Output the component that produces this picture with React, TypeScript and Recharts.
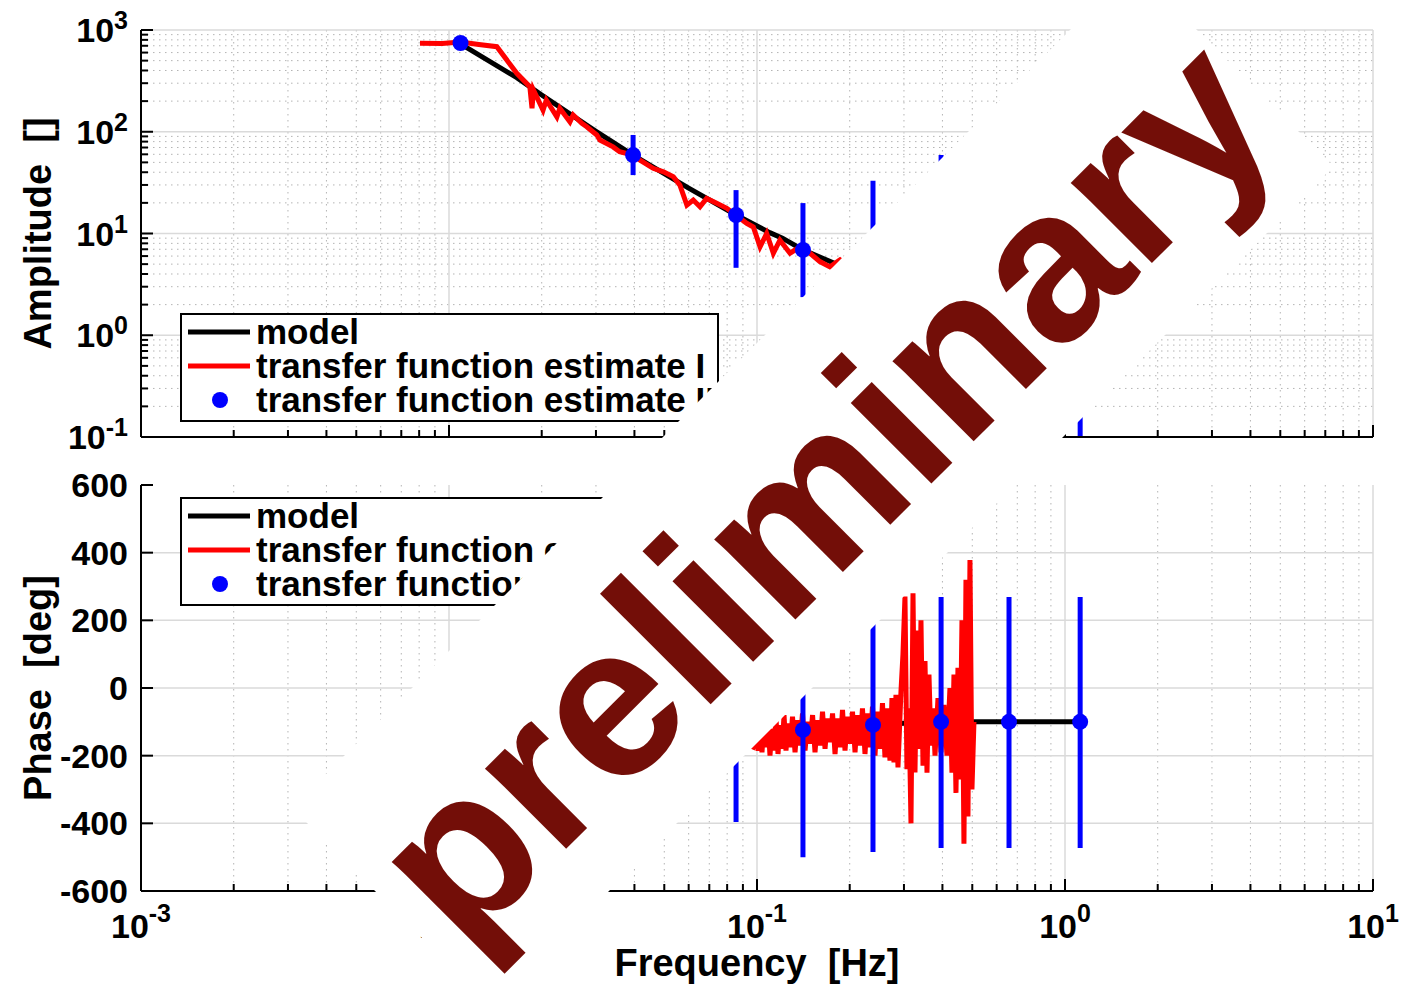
import React from "react";
import { ComposedChart, Line, Scatter, ErrorBar, XAxis, YAxis, CartesianGrid, Legend } from "recharts";

const FONT = '"Liberation Sans", Arial, Helvetica, sans-serif';

// axes
const freqDecades = [0.001, 0.01, 0.1, 1, 10];
const ampDecades = [0.1, 1, 10, 100, 1000];
const minorSteps = [2, 3, 4, 5, 6, 7, 8, 9];
const phaseTicks = [-600, -400, -200, 0, 200, 400, 600];
const phaseGrid = [-400, -200, 0, 200, 400];

// model
const modelFreq = [0.0106, 0.0166, 0.02, 0.03, 0.0396, 0.06, 0.0855, 0.11, 0.121, 0.141, 0.2, 0.238, 0.3, 0.396, 0.5, 0.658, 1.12];
const modelAmp = [770, 340, 230, 101, 59, 27.9, 15.2, 10.2, 9.0, 6.9, 4.4, 3.6, 2.6, 2.0, 1.6, 1.25, 0.72];
const modelPhase = [-177, -174, -172, -167, -162, -152, -140, -131, -128, -124, -113, -109, -104, -101, -100, -100, -100];

// transfer function estimate I (amplitude)
const tfIFreqAmp = [
  0.00805, 0.0095, 0.0109, 0.0125, 0.0143, 0.0166, 0.0183, 0.0186, 0.0188, 0.0202, 0.0207, 0.0224, 0.0229,
  0.0247, 0.0253, 0.027, 0.028, 0.0302, 0.0309, 0.0341, 0.0358, 0.0396, 0.0417, 0.046, 0.0497, 0.0535,
  0.0562, 0.0592, 0.0621, 0.0653, 0.0686, 0.074, 0.0798, 0.0838, 0.0926, 0.0973, 0.1023, 0.1075, 0.113,
  0.1187, 0.128, 0.138, 0.1487, 0.16, 0.1725, 0.186, 0.21, 0.25, 0.3, 0.35, 0.4, 0.45, 0.5,
];
const tfIAmp = [
  740, 735, 760, 720, 685, 375, 277, 170, 257, 163, 205, 140, 170,
  125, 146, 121, 112, 93, 83, 71, 63.6, 59, 52.7, 43.7, 40.4, 36.1,
  29.9, 19.0, 21.3, 18.3, 22.1, 19.8, 17.7, 15.8, 12.6, 11.6, 7.4, 10.0, 6.4,
  8.6, 6.4, 7.4, 6.4, 5.3, 4.7, 5.5, 4.2, 3.6, 2.8, 2.5, 2.0, 1.9, 1.6,
];

// transfer function estimate I (phase)
const tfIFreqPhase = [
  0.0081, 0.012, 0.02, 0.03, 0.045, 0.06, 0.075, 0.09,
  0.09705, 0.0989, 0.1008, 0.1023, 0.1038, 0.1053, 0.1069, 0.1085, 0.1102, 0.1118, 0.1135, 0.1152,
  0.117, 0.1188, 0.1206, 0.1224, 0.1242, 0.1261, 0.128, 0.1304, 0.1329, 0.1354, 0.1379, 0.1405,
  0.1432, 0.1459, 0.1487, 0.1515, 0.1543, 0.1572, 0.1602, 0.1632, 0.1663, 0.1694, 0.1726, 0.1759,
  0.1792, 0.1826, 0.186, 0.1895, 0.1931, 0.1967, 0.2004, 0.2042, 0.2081, 0.212, 0.216, 0.22,
  0.2242, 0.2284, 0.2327, 0.2371, 0.2416, 0.2461, 0.2508, 0.2555, 0.2603, 0.2652, 0.2702, 0.2743,
  0.2784, 0.2826, 0.2869, 0.2934, 0.2978, 0.3023, 0.3068,
  0.3114, 0.3162, 0.321, 0.3258, 0.3307, 0.3357, 0.3407, 0.3459, 0.3511, 0.3564, 0.3617, 0.3672,
  0.3728, 0.3784, 0.3869, 0.3957, 0.4046, 0.4138, 0.4231, 0.4295, 0.436, 0.4426, 0.4492, 0.456,
  0.4629, 0.4698, 0.4769, 0.4841, 0.4914, 0.4988, 0.5063,
];
const tfIPhase = [
  -178, -176, -172, -166, -158, -152, -150, -160,
  -174, -140, -185, -120, -190, -105, -175, -95, -200, -120, -185, -85,
  -195, -110, -180, -80, -185, -105, -175, -85, -190, -95, -170, -75,
  -185, -100, -165, -80, -190, -95, -170, -70, -180, -90, -160, -75,
  -195, -90, -175, -65, -185, -85, -165, -70, -190, -80, -170, -60,
  -195, -75, -175, -55, -200, -70, -180, -45, -205, -60, -215, -30,
  -220, -20, -235, -10, 100, 270, -240,
  -60, -400, 280, -250, 170, -180, 200, -230, 80, -250, 40, -170,
  -60, -200, -30, -190, -50, -200, 0, -250, 40, -310, 60, -270,
  200, -460, 320, -380, 378, -300, -100,
];

// transfer function estimate II
const tfIIFreq = [0.0109, 0.0396, 0.0855, 0.141, 0.238, 0.396, 0.658, 1.12];
const tfIIAmp = [745, 59, 15.2, 6.9, 3.6, 2.1, 1.3, 0.8];
const tfIIAmpLow = [700, 37.5, 4.6, 2.37, 0.5, 0.3, 0.15, 0.1];
const tfIIAmpHigh = [790, 93, 26.7, 19.9, 33, 59, 45, 30];
const tfIIPhase = [-178, -160, -138, -124, -109, -100, -100, -100];
const tfIIPhaseLow = [-260, -300, -396, -500, -485, -473, -473, -473];
const tfIIPhaseHigh = [-100, -20, 120, 250, 265, 269, 269, 269];

const freqMinor = freqDecades.slice(0, -1).flatMap((d) => minorSteps.map((m) => +(m * d).toPrecision(3)));
const ampMinor = ampDecades.slice(0, -1).flatMap((d) => minorSteps.map((m) => +(m * d).toPrecision(3)));
const freqTicks = [...freqDecades, ...freqMinor].sort((a, b) => a - b);
const ampTicks = [...ampDecades, ...ampMinor].sort((a, b) => a - b);

const modelAmpData = modelFreq.map((f, i) => ({ f, v: modelAmp[i] }));
const modelPhaseData = modelFreq.map((f, i) => ({ f, v: modelPhase[i] }));
const tfIAmpData = tfIFreqAmp.map((f, i) => ({ f, v: tfIAmp[i] }));
const tfIPhaseData = tfIFreqPhase.map((f, i) => ({ f, v: tfIPhase[i] }));
const tfIIAmpData = tfIIFreq.map((f, i) => ({ f, v: tfIIAmp[i], err: [tfIIAmp[i] - tfIIAmpLow[i], tfIIAmpHigh[i] - tfIIAmp[i]] }));
const tfIIPhaseData = tfIIFreq.map((f, i) => ({ f, v: tfIIPhase[i], err: [tfIIPhase[i] - tfIIPhaseLow[i], tfIIPhaseHigh[i] - tfIIPhase[i]] }));

const isDecade = (v: number) => Math.abs(Math.log10(v) - Math.round(Math.log10(v))) < 1e-6;

// grid positions: use the axis scale when it is callable, otherwise map through the plot box
const scaleFn = (axis: any) => {
  const s = axis?.scale;
  if (typeof s === "function") return (v: number) => s(v);
  if (s && typeof s.map === "function") return (v: number) => s.map(v);
  return null;
};
const vGen = (vals: number[], dom: number[]) => ({ xAxis, offset }: any) => {
  const s = scaleFn(xAxis);
  const t = (v: number) => (Math.log10(v) - Math.log10(dom[0])) / (Math.log10(dom[1]) - Math.log10(dom[0]));
  return vals.map((v) => (s ? s(v) : offset.left + offset.width * t(v)));
};
const hGen = (vals: number[], dom: number[], log: boolean) => ({ yAxis, offset }: any) => {
  const s = scaleFn(yAxis);
  const t = (v: number) =>
    log ? (Math.log10(v) - Math.log10(dom[0])) / (Math.log10(dom[1]) - Math.log10(dom[0])) : (v - dom[0]) / (dom[1] - dom[0]);
  return vals.map((v) => (s ? s(v) : offset.top + offset.height * (1 - t(v))));
};

const FREQ_DOMAIN = [0.001, 10];
const AMP_DOMAIN = [0.1, 1000];
const PHASE_DOMAIN = [-600, 600];

const MINOR_GRID = { stroke: "#b4b4b4", strokeWidth: 1, strokeDasharray: "1.5 4.5" };
const MAJOR_GRID = { stroke: "#dadada", strokeWidth: 1.5 };

// inward ticks, MATLAB style
const xTick = (side: "top" | "bottom", labelled: boolean) => (p: any) => {
  const v = p.payload.value;
  const major = isDecade(v);
  const len = major ? 12 : 7;
  const y2 = side === "bottom" ? p.y - len : p.y + len;
  return (
    <g>
      <line x1={p.x} x2={p.x} y1={p.y} y2={y2} stroke="#000" strokeWidth={2} />
      {labelled && major && (
        <text x={p.x} y={p.y + 47} textAnchor="middle" fontFamily={FONT} fontWeight="bold" fontSize={34} fill="#000">
          10<tspan dy={-16} fontSize={25}>{Math.round(Math.log10(v))}</tspan>
        </text>
      )}
    </g>
  );
};

const ampTick = (side: "left" | "right") => (p: any) => {
  const v = p.payload.value;
  const major = isDecade(v);
  const len = major ? 12 : 7;
  const x2 = side === "left" ? p.x + len : p.x - len;
  return (
    <g>
      <line x1={p.x} x2={x2} y1={p.y} y2={p.y} stroke="#000" strokeWidth={2} />
      {side === "left" && major && (
        <text x={p.x - 13} y={p.y + 12} textAnchor="end" fontFamily={FONT} fontWeight="bold" fontSize={34} fill="#000">
          10<tspan dy={-13} fontSize={25}>{Math.round(Math.log10(v))}</tspan>
        </text>
      )}
    </g>
  );
};

const phaseTick = (side: "left" | "right") => (p: any) => {
  const v = p.payload.value;
  const x2 = side === "left" ? p.x + 12 : p.x - 12;
  return (
    <g>
      <line x1={p.x} x2={x2} y1={p.y} y2={p.y} stroke="#000" strokeWidth={2} />
      {side === "left" && (
        <text x={p.x - 13} y={p.y + 12} textAnchor="end" fontFamily={FONT} fontWeight="bold" fontSize={34} fill="#000">
          {v}
        </text>
      )}
    </g>
  );
};

const legendItems = [
  { name: "model", kind: "line", color: "#000000" },
  { name: "transfer function estimate I", kind: "line", color: "#ff0000" },
  { name: "transfer function estimate II", kind: "dot", color: "#0000ff" },
];

function LegendBox() {
  return (
    <svg width={540} height={110}>
      <rect x={1} y={1} width={537} height={107} fill="#fff" stroke="#000" strokeWidth={2} />
      {legendItems.map((it, i) => {
        const cy = 19 + 34 * i;
        return (
          <g key={it.name}>
            {it.kind === "line" ? (
              <line x1={8} x2={70} y1={cy} y2={cy} stroke={it.color} strokeWidth={5} />
            ) : (
              <circle cx={40} cy={cy} r={8} fill={it.color} />
            )}
            <text x={76} y={cy + 12} fontFamily={FONT} fontWeight="bold" fontSize={35} fill="#000">
              {it.name}
            </text>
          </g>
        );
      })}
    </svg>
  );
}

const axisLine = { stroke: "#000", strokeWidth: 2 };
const titleStyle = { textAnchor: "middle", fontSize: 38, fontWeight: "bold", fontFamily: FONT, fill: "#000" } as any;

const dot = (p: any) => <circle cx={p.cx} cy={p.cy} r={8} fill="#0000ff" />;

function AmplitudeChart() {
  return (
    <ComposedChart width={1418} height={460} margin={{ top: 30, right: 45, bottom: 0, left: 0 }}>
      <CartesianGrid {...MINOR_GRID} verticalCoordinatesGenerator={vGen(freqMinor, FREQ_DOMAIN)}
        horizontalCoordinatesGenerator={hGen(ampMinor, AMP_DOMAIN, true)} />
      <CartesianGrid {...MAJOR_GRID} verticalCoordinatesGenerator={vGen(freqDecades, FREQ_DOMAIN)}
        horizontalCoordinatesGenerator={hGen(ampDecades, AMP_DOMAIN, true)} />
      <XAxis xAxisId={0} dataKey="f" type="number" scale="log" domain={FREQ_DOMAIN} allowDataOverflow ticks={freqTicks} interval={0}
        height={23} tickSize={0} tickMargin={0} tickLine={false} axisLine={axisLine} tick={xTick("bottom", false)} />
      <XAxis xAxisId="top" orientation="top" dataKey="f" type="number" scale="log" domain={FREQ_DOMAIN} allowDataOverflow ticks={freqTicks} interval={0}
        height={0} tickSize={0} tickMargin={0} tickLine={false} axisLine={axisLine} tick={xTick("top", false)} />
      <YAxis yAxisId={0} type="number" scale="log" domain={AMP_DOMAIN} allowDataOverflow ticks={ampTicks} interval={0}
        width={141} tickSize={0} tickMargin={0} tickLine={false} axisLine={axisLine} tick={ampTick("left")}
        label={{ value: "Amplitude\u00a0\u00a0[]", angle: -90, position: "insideLeft", offset: 38, style: titleStyle }} />
      <YAxis yAxisId="right" orientation="right" type="number" scale="log" domain={AMP_DOMAIN} allowDataOverflow ticks={ampTicks} interval={0}
        width={0} tickSize={0} tickMargin={0} tickLine={false} axisLine={axisLine} tick={ampTick("right")} />
      <Line data={modelAmpData} dataKey="v" type="linear" stroke="#000" strokeWidth={5} dot={false} isAnimationActive={false} />
      <Line data={tfIAmpData} dataKey="v" type="linear" stroke="#ff0000" strokeWidth={5} dot={false} isAnimationActive={false} />
      <Scatter data={tfIIAmpData} dataKey="v" shape={dot} isAnimationActive={false}>
        <ErrorBar dataKey="err" direction="y" width={0} strokeWidth={5} stroke="#0000ff" />
      </Scatter>
      <Legend content={() => <LegendBox />} layout="vertical" align="center" verticalAlign="middle"
        wrapperStyle={{ left: 180, top: 313, width: 540, height: 110 }} />
    </ComposedChart>
  );
}

function PhaseChart() {
  return (
    <ComposedChart width={1418} height={525} margin={{ top: 25, right: 45, bottom: 0, left: 0 }}>
      <CartesianGrid {...MINOR_GRID} horizontal={false} verticalCoordinatesGenerator={vGen(freqMinor, FREQ_DOMAIN)} />
      <CartesianGrid {...MAJOR_GRID} verticalCoordinatesGenerator={vGen(freqDecades, FREQ_DOMAIN)}
        horizontalCoordinatesGenerator={hGen(phaseGrid, PHASE_DOMAIN, false)} />
      <XAxis xAxisId={0} dataKey="f" type="number" scale="log" domain={FREQ_DOMAIN} allowDataOverflow ticks={freqTicks} interval={0}
        height={94} tickSize={0} tickMargin={0} tickLine={false} axisLine={axisLine} tick={xTick("bottom", true)}
        label={{ value: "Frequency\u00a0\u00a0[Hz]", position: "insideBottom", offset: 9, style: titleStyle }} />
      <XAxis xAxisId="top" orientation="top" dataKey="f" type="number" scale="log" domain={FREQ_DOMAIN} allowDataOverflow ticks={freqTicks} interval={0}
        height={0} tickSize={0} tickMargin={0} tickLine={false} axisLine={axisLine} tick={xTick("top", false)} />
      <YAxis yAxisId={0} type="number" domain={PHASE_DOMAIN} allowDataOverflow ticks={phaseTicks} interval={0}
        width={141} tickSize={0} tickMargin={0} tickLine={false} axisLine={axisLine} tick={phaseTick("left")}
        label={{ value: "Phase\u00a0\u00a0[deg]", angle: -90, position: "insideLeft", offset: 38, style: titleStyle }} />
      <YAxis yAxisId="right" orientation="right" type="number" domain={PHASE_DOMAIN} allowDataOverflow ticks={phaseTicks} interval={0}
        width={0} tickSize={0} tickMargin={0} tickLine={false} axisLine={axisLine} tick={phaseTick("right")} />
      <Line data={modelPhaseData} dataKey="v" type="linear" stroke="#000" strokeWidth={5} dot={false} isAnimationActive={false} />
      <Line data={tfIPhaseData} dataKey="v" type="linear" stroke="#ff0000" strokeWidth={5} dot={false} isAnimationActive={false} />
      <Scatter data={tfIIPhaseData} dataKey="v" shape={dot} isAnimationActive={false}>
        <ErrorBar dataKey="err" direction="y" width={0} strokeWidth={5} stroke="#0000ff" />
      </Scatter>
      <Legend content={() => <LegendBox />} layout="vertical" align="center" verticalAlign="middle"
        wrapperStyle={{ left: 180, top: 37, width: 540, height: 110 }} />
    </ComposedChart>
  );
}

// "preliminary" stamp laid over both panels
function Watermark() {
  return (
    <svg width={1418} height={985} style={{ position: "absolute", left: 0, top: 0, pointerEvents: "none" }}>
      <rect x={812.75 - 595} y={487.25 - 141.4} width={1190} height={282.8} fill="#fff" transform="rotate(-45 812.75 487.25)" />
      <text x={874} y={541} transform="rotate(-45 874 541)" textAnchor="middle" fontFamily={FONT}
        fontWeight="bold" fontSize={216} fill="#730e08">
        preliminary
      </text>
    </svg>
  );
}

export default function App() {
  return (
    <div style={{ position: "absolute", left: 0, top: 0, width: 1418, height: 985, background: "#fff", overflow: "hidden" }}>
      <div style={{ position: "absolute", left: 0, top: 0 }}>
        <AmplitudeChart />
      </div>
      <div style={{ position: "absolute", left: 0, top: 460 }}>
        <PhaseChart />
      </div>
      <Watermark />
    </div>
  );
}
